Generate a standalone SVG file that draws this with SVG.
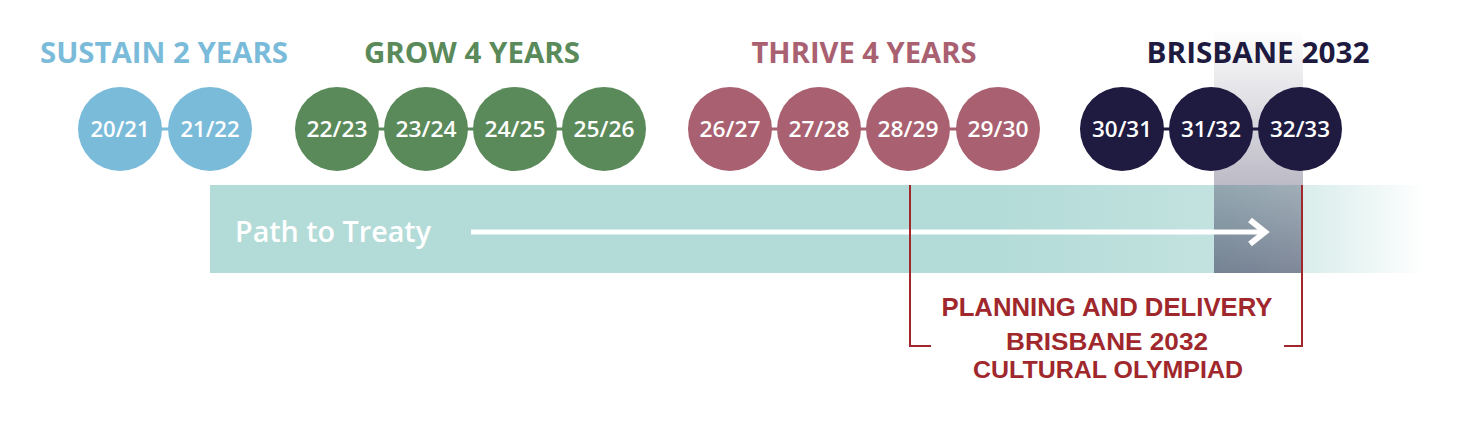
<svg xmlns="http://www.w3.org/2000/svg" width="1475" height="428" viewBox="0 0 1475 428">
<style>
.h{font-family:"Open Sans","Liberation Sans",sans-serif;font-weight:700;font-size:29px;text-anchor:middle}
.lbl{font-family:"Open Sans","Liberation Sans",sans-serif;font-weight:600;font-size:22px;fill:#fff;text-anchor:middle}
.red{font-family:"Liberation Sans","Open Sans",sans-serif;font-weight:700;fill:#A0282D;text-anchor:middle}
.s{fill:#7BBBDA}.g{fill:#5A8A5A}.t{fill:#A96070}.b{fill:#1E1A40}
.cs{stroke:#7BBBDA}.cg{stroke:#5A8A5A}.ct{stroke:#A96070}.cb{stroke:#1E1A40}
.link{stroke-width:3;fill:none}
.br{stroke:#A0282D;stroke-width:2;fill:none}
</style>
<defs>
<linearGradient id="band" x1="210" y1="0" x2="1425" y2="0" gradientUnits="userSpaceOnUse">
<stop offset="0" stop-color="#B3DBD8"/>
<stop offset="0.65" stop-color="#B3DBD8"/>
<stop offset="0.82" stop-color="#C2E2DF"/>
<stop offset="1" stop-color="#B3DBD8" stop-opacity="0"/>
</linearGradient>
<linearGradient id="shade" x1="0" y1="30" x2="0" y2="273" gradientUnits="userSpaceOnUse">
<stop offset="0" stop-color="#1E1A40" stop-opacity="0"/>
<stop offset="0.64" stop-color="#1E1A40" stop-opacity="0.3"/>
<stop offset="1" stop-color="#1E1A40" stop-opacity="0.48"/>
</linearGradient>
</defs>
<rect width="1475" height="428" fill="#fff"/>

<g id="band-path">
<rect x="210" y="185" width="1215" height="88" fill="url(#band)"/>
<rect x="1214" y="30" width="89" height="243" fill="url(#shade)"/>
<text x="235" y="242" font-family="Open Sans, Liberation Sans, sans-serif" font-weight="600" font-size="28" fill="#fff" textLength="196" lengthAdjust="spacingAndGlyphs">Path to Treaty</text>
</g>

<g id="headings">
<text class="h s" x="164" y="63" textLength="248" lengthAdjust="spacingAndGlyphs">SUSTAIN 2 YEARS</text>
<text class="h g" x="472" y="63" textLength="216" lengthAdjust="spacingAndGlyphs">GROW 4 YEARS</text>
<text class="h t" x="864" y="63" textLength="225" lengthAdjust="spacingAndGlyphs">THRIVE 4 YEARS</text>
<text class="h b" x="1258" y="63" textLength="223" lengthAdjust="spacingAndGlyphs">BRISBANE 2032</text>
</g>

<g id="connectors">
<line class="link cs" x1="160" y1="129" x2="170" y2="129"/>
<line class="link cg" x1="377" y1="129" x2="386" y2="129"/>
<line class="link cg" x1="466" y1="129" x2="475" y2="129"/>
<line class="link cg" x1="555" y1="129" x2="564" y2="129"/>
<line class="link ct" x1="770" y1="129" x2="779" y2="129"/>
<line class="link ct" x1="859" y1="129" x2="868" y2="129"/>
<line class="link ct" x1="948" y1="129" x2="958" y2="129"/>
<line class="link cb" x1="1162" y1="129" x2="1171" y2="129"/>
<line class="link cb" x1="1251" y1="129" x2="1260" y2="129"/>
<line x1="471" y1="232" x2="1262" y2="232" stroke="#fff" stroke-width="5"/>
<polyline points="1250,220 1265,232 1250,244" stroke="#fff" stroke-width="6" fill="none"/>
<polyline class="br" points="910,185 910,346 931,346"/>
<polyline class="br" points="1302,185 1302,346 1284,346"/>
</g>

<g id="n2021"><circle class="s" cx="120" cy="129" r="42"/><text class="lbl" x="120" y="137" textLength="59" lengthAdjust="spacingAndGlyphs">20/21</text></g>
<g id="n2122"><circle class="s" cx="210" cy="129" r="42"/><text class="lbl" x="210" y="137" textLength="59" lengthAdjust="spacingAndGlyphs">21/22</text></g>
<g id="n2223"><circle class="g" cx="337" cy="129" r="42"/><text class="lbl" x="337" y="137" textLength="61" lengthAdjust="spacingAndGlyphs">22/23</text></g>
<g id="n2324"><circle class="g" cx="426" cy="129" r="42"/><text class="lbl" x="426" y="137" textLength="61" lengthAdjust="spacingAndGlyphs">23/24</text></g>
<g id="n2425"><circle class="g" cx="515" cy="129" r="42"/><text class="lbl" x="515" y="137" textLength="61" lengthAdjust="spacingAndGlyphs">24/25</text></g>
<g id="n2526"><circle class="g" cx="604" cy="129" r="42"/><text class="lbl" x="604" y="137" textLength="61" lengthAdjust="spacingAndGlyphs">25/26</text></g>
<g id="n2627"><circle class="t" cx="730" cy="129" r="42"/><text class="lbl" x="730" y="137" textLength="61" lengthAdjust="spacingAndGlyphs">26/27</text></g>
<g id="n2728"><circle class="t" cx="819" cy="129" r="42"/><text class="lbl" x="819" y="137" textLength="61" lengthAdjust="spacingAndGlyphs">27/28</text></g>
<g id="n2829"><circle class="t" cx="908" cy="129" r="42"/><text class="lbl" x="908" y="137" textLength="61" lengthAdjust="spacingAndGlyphs">28/29</text></g>
<g id="n2930"><circle class="t" cx="998" cy="129" r="42"/><text class="lbl" x="998" y="137" textLength="61" lengthAdjust="spacingAndGlyphs">29/30</text></g>
<g id="n3031"><circle class="b" cx="1122" cy="129" r="42"/><text class="lbl" x="1122" y="137" textLength="60" lengthAdjust="spacingAndGlyphs">30/31</text></g>
<g id="n3132"><circle class="b" cx="1211" cy="129" r="42"/><text class="lbl" x="1211" y="137" textLength="60" lengthAdjust="spacingAndGlyphs">31/32</text></g>
<g id="n3233"><circle class="b" cx="1300" cy="129" r="42"/><text class="lbl" x="1300" y="137" textLength="60" lengthAdjust="spacingAndGlyphs">32/33</text></g>

<g id="planning">
<text class="red" x="1107" y="316" font-size="26" textLength="331" lengthAdjust="spacingAndGlyphs">PLANNING AND DELIVERY</text>
<text class="red" x="1107" y="350" font-size="23" textLength="202" lengthAdjust="spacingAndGlyphs">BRISBANE 2032</text>
<text class="red" x="1108" y="378" font-size="23" textLength="270" lengthAdjust="spacingAndGlyphs">CULTURAL OLYMPIAD</text>
</g>
</svg>
